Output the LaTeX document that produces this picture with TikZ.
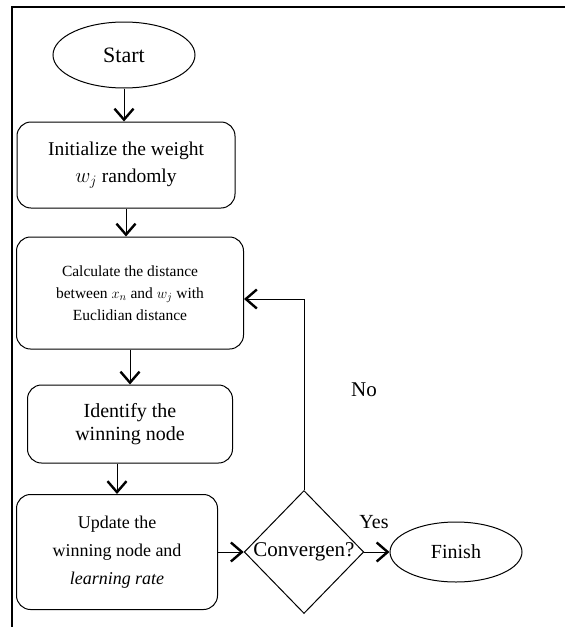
\documentclass[tikz,border=0pt]{standalone}
\usepackage{fontspec}
\setmainfont{Liberation Serif}
\usetikzlibrary{arrows.meta,shapes.geometric}

\begin{document}
\begin{tikzpicture}[x=1pt,y=-1pt,
  block/.style={draw, rounded corners=14pt, line width=1pt, align=center, inner sep=0pt},
  term/.style={draw, ellipse, line width=1pt, inner sep=0pt},
  decide/.style={draw, diamond, line width=1pt, inner sep=0pt, minimum width=115pt, minimum height=123pt},
  flow/.style={line width=0.8pt, -{Straight Barb[length=11pt,width=19pt,line width=2.4pt]}},
  font=\fontsize{20}{24}\selectfont]
\useasboundingbox (0,0) rectangle (565,627);
% frame
\draw[line width=1.2pt] (12,627) -- (12,7) -- (565,7);
\node[term, minimum width=142pt, minimum height=66pt, font=\fontsize{22}{24}\selectfont] (start) at (124,55) {Start};
\node[block, minimum width=218pt, minimum height=86pt, font=\fontsize{19.5}{27}\selectfont] (init) at (126,165) {Initialize the weight\\ $w_j$ randomly};
\node[block, minimum width=227pt, minimum height=112pt, font=\fontsize{15.5}{22}\selectfont] (calc) at (130,293) {Calculate the distance\\ between $x_n$ and $w_j$ with\\ Euclidian distance};
\node[block, minimum width=205pt, minimum height=78pt, font=\fontsize{20}{23}\selectfont] (ident) at (130,424) {Identify the\\ winning node};
\node[block, minimum width=201pt, minimum height=115pt, font=\fontsize{18}{28}\selectfont] (update) at (117,552) {Update the\\ winning node and\\ \textit{learning rate}};
\node[decide, font=\fontsize{21}{22}\selectfont] (conv) at (304,552) {Convergen?};
\node[term, minimum width=132pt, minimum height=60pt, font=\fontsize{20}{22}\selectfont] (finish) at (456,552) {Finish};
\node[font=\fontsize{20}{22}\selectfont] (yes) at (374,522) {Yes};
\node[font=\fontsize{21}{22}\selectfont] (no) at (364,390) {No};
\coordinate (back) at (304,299);
\draw[flow] (start) -- (start |- init.north);
\draw[flow] (init) -- (init |- calc.north);
\draw[flow] (calc) -- (calc |- ident.north);
\draw[flow] (update |- ident.south) -- (update);
\draw[flow] (update) -- (conv);
\draw[flow] (conv) -- (finish);
\draw[flow] (conv.north) -- (back) -- (calc.east |- back);
\end{tikzpicture}
\end{document}
